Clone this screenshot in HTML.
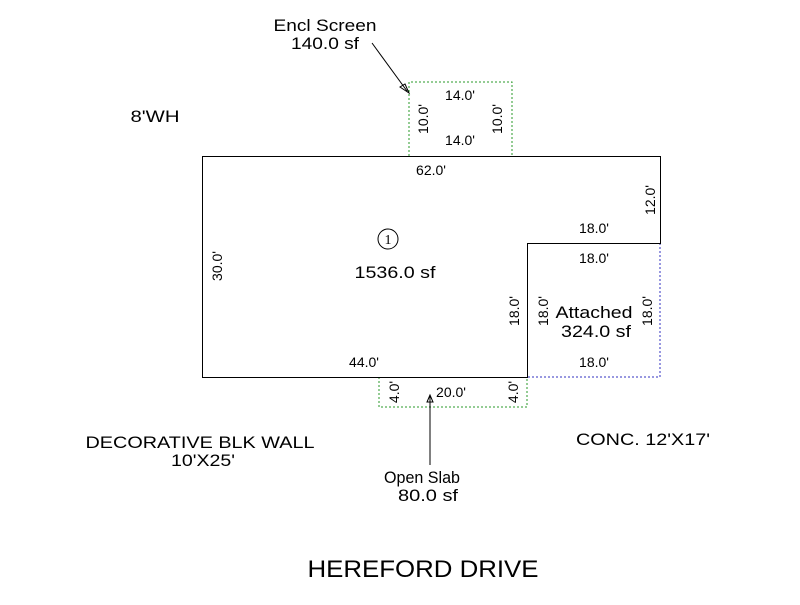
<!DOCTYPE html>
<html><head><style>body{margin:0;background:#fff}</style></head><body>
<svg width="800" height="600" xmlns="http://www.w3.org/2000/svg" font-family="Liberation Sans, Arial, sans-serif" font-size="14" fill="#000">
<rect width="800" height="600" fill="#fff"/>
<g fill="none" stroke-width="1">
<polyline points="409,156 409,82 512,82 512,156" stroke="#2a9a2a" stroke-dasharray="2,2"/>
<polyline points="379,377 379,407 527,407 527,377" stroke="#2a9a2a" stroke-dasharray="2,2"/>
<polyline points="660,243 660,377 527,377" stroke="#3030c0" stroke-dasharray="2,2"/>
<polygon points="202.5,156.5 660.5,156.5 660.5,243.5 527.5,243.5 527.5,377.5 202.5,377.5" stroke="#000"/>
<line x1="372" y1="43" x2="407" y2="91" stroke="#000"/>
<line x1="430" y1="465" x2="430" y2="396" stroke="#000"/>
<circle cx="388" cy="239" r="10" stroke="#000"/>
</g>
<polygon points="409,93 400,87 405,84" fill="none" stroke="#000"/>
<polygon points="430,395 427,402 433,402" fill="none" stroke="#000"/>
<g text-anchor="middle">
<text x="325" y="31" font-size="17" textLength="103" lengthAdjust="spacingAndGlyphs">Encl Screen</text>
<text x="325" y="49" font-size="17" textLength="68" lengthAdjust="spacingAndGlyphs">140.0 sf</text>
<text x="155" y="122" font-size="17" textLength="49" lengthAdjust="spacingAndGlyphs">8'WH</text>
<text x="460" y="100">14.0'</text>
<text x="460" y="145">14.0'</text>
<text x="431" y="175">62.0'</text>
<text x="594" y="233">18.0'</text>
<text x="594" y="263">18.0'</text>
<text x="594" y="367">18.0'</text>
<text x="364" y="367">44.0'</text>
<text x="451" y="397">20.0'</text>
<text x="388" y="244" font-family="Liberation Serif, serif" font-size="14">1</text>
<text x="395" y="278" font-size="17" textLength="81" lengthAdjust="spacingAndGlyphs">1536.0 sf</text>
<text x="594" y="318" font-size="17" textLength="77" lengthAdjust="spacingAndGlyphs">Attached</text>
<text x="596" y="337" font-size="17" textLength="70" lengthAdjust="spacingAndGlyphs">324.0 sf</text>
<text x="200" y="448" font-size="17" textLength="229" lengthAdjust="spacingAndGlyphs">DECORATIVE BLK WALL</text>
<text x="203" y="466" font-size="17" textLength="64" lengthAdjust="spacingAndGlyphs">10'X25'</text>
<text x="643" y="445" font-size="17" textLength="134" lengthAdjust="spacingAndGlyphs">CONC. 12'X17'</text>
<text x="422" y="483" font-size="17" textLength="76" lengthAdjust="spacingAndGlyphs">Open Slab</text>
<text x="428" y="501" font-size="17" textLength="60" lengthAdjust="spacingAndGlyphs">80.0 sf</text>
<text x="423" y="577" font-size="24" textLength="231" lengthAdjust="spacingAndGlyphs">HEREFORD DRIVE</text>
<text transform="translate(428,119) rotate(-90)">10.0'</text>
<text transform="translate(502,119) rotate(-90)">10.0'</text>
<text transform="translate(222,266) rotate(-90)">30.0'</text>
<text transform="translate(655,200) rotate(-90)">12.0'</text>
<text transform="translate(519,311) rotate(-90)">18.0'</text>
<text transform="translate(548,311) rotate(-90)">18.0'</text>
<text transform="translate(652,311) rotate(-90)">18.0'</text>
<text transform="translate(399,392) rotate(-90)">4.0'</text>
<text transform="translate(518,392) rotate(-90)">4.0'</text>
</g>
</svg>
</body></html>
